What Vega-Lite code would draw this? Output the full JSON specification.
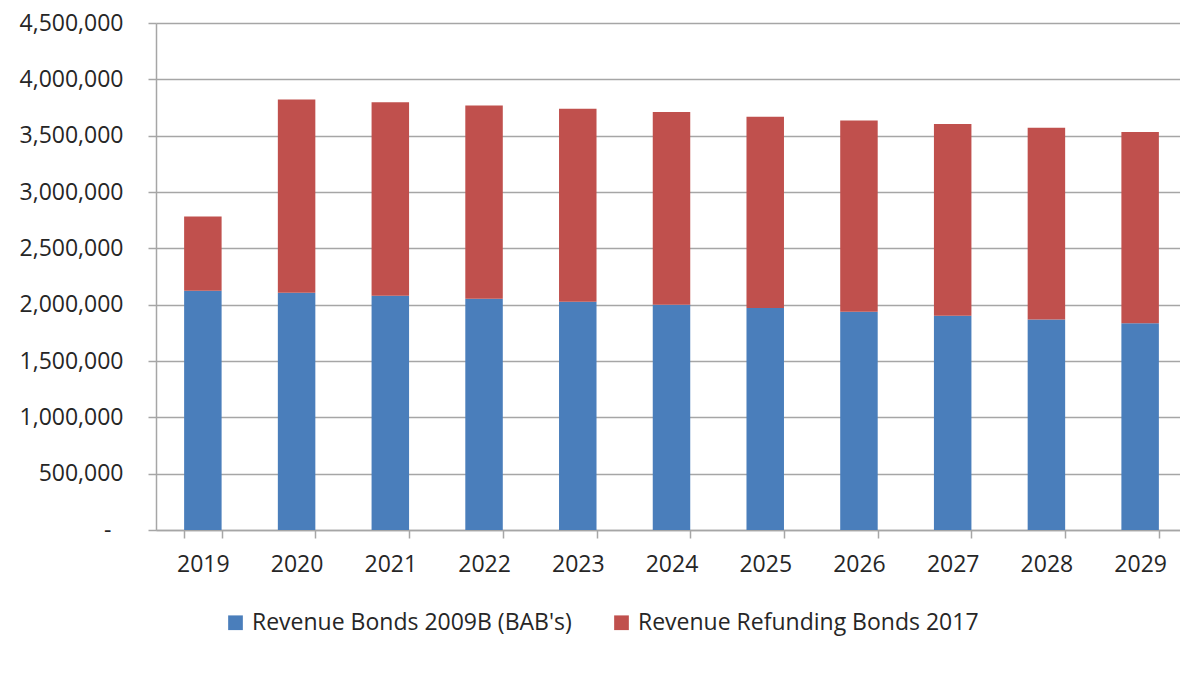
{
  "$schema": "https://vega.github.io/schema/vega-lite/v6.json",
  "autosize": {"type": "none"},
  "width": 1031,
  "height": 507,
  "padding": {"left": 156, "top": 23, "right": 0, "bottom": 143},
  "background": "white",
  "data": {
    "values": [
      {"year": "2019", "series": "Revenue Bonds 2009B (BAB's)", "amount": 2124000},
      {"year": "2019", "series": "Revenue Refunding Bonds 2017", "amount": 659500},
      {"year": "2020", "series": "Revenue Bonds 2009B (BAB's)", "amount": 2106000},
      {"year": "2020", "series": "Revenue Refunding Bonds 2017", "amount": 1716000},
      {"year": "2021", "series": "Revenue Bonds 2009B (BAB's)", "amount": 2080000},
      {"year": "2021", "series": "Revenue Refunding Bonds 2017", "amount": 1715500},
      {"year": "2022", "series": "Revenue Bonds 2009B (BAB's)", "amount": 2053000},
      {"year": "2022", "series": "Revenue Refunding Bonds 2017", "amount": 1715500},
      {"year": "2023", "series": "Revenue Bonds 2009B (BAB's)", "amount": 2026500},
      {"year": "2023", "series": "Revenue Refunding Bonds 2017", "amount": 1713000},
      {"year": "2024", "series": "Revenue Bonds 2009B (BAB's)", "amount": 2000000},
      {"year": "2024", "series": "Revenue Refunding Bonds 2017", "amount": 1709500},
      {"year": "2025", "series": "Revenue Bonds 2009B (BAB's)", "amount": 1969500},
      {"year": "2025", "series": "Revenue Refunding Bonds 2017", "amount": 1699000},
      {"year": "2026", "series": "Revenue Bonds 2009B (BAB's)", "amount": 1937500},
      {"year": "2026", "series": "Revenue Refunding Bonds 2017", "amount": 1698000},
      {"year": "2027", "series": "Revenue Bonds 2009B (BAB's)", "amount": 1902000},
      {"year": "2027", "series": "Revenue Refunding Bonds 2017", "amount": 1701000},
      {"year": "2028", "series": "Revenue Bonds 2009B (BAB's)", "amount": 1869000},
      {"year": "2028", "series": "Revenue Refunding Bonds 2017", "amount": 1701500},
      {"year": "2029", "series": "Revenue Bonds 2009B (BAB's)", "amount": 1834000},
      {"year": "2029", "series": "Revenue Refunding Bonds 2017", "amount": 1698000}
    ]
  },
  "mark": {"type": "bar"},
  "encoding": {
    "x": {
      "field": "year",
      "type": "ordinal",
      "scale": {"paddingInner": 0.6, "paddingOuter": 0.3},
      "axis": {
        "title": null,
        "labelAngle": 0,
        "labelFontSize": 23,
        "labelPadding": 15,
        "tickBand": "extent",
        "tickSize": 8,
        "tickWidth": 1.5,
        "tickColor": "#a6a6a6",
        "domainColor": "#a6a6a6",
        "domainWidth": 1.5,
        "grid": false
      }
    },
    "y": {
      "field": "amount",
      "type": "quantitative",
      "stack": "zero",
      "scale": {"domain": [0, 4500000], "nice": false},
      "axis": {
        "title": null,
        "values": [0, 500000, 1000000, 1500000, 2000000, 2500000, 3000000, 3500000, 4000000, 4500000],
        "labelExpr": "datum.value == 0 ? '-' : format(datum.value, ',')",
        "labelFontSize": 23,
        "labelPadding": {"condition": {"test": "datum.value == 0", "value": 37}, "value": 25},
        "tickSize": 8,
        "tickWidth": 1.5,
        "tickColor": "#a6a6a6",
        "domainColor": "#a6a6a6",
        "domainWidth": 1.5,
        "grid": true,
        "gridColor": "#a6a6a6",
        "gridWidth": 1.5
      }
    },
    "order": {"field": "series", "sort": "ascending"},
    "color": {
      "field": "series",
      "type": "nominal",
      "scale": {
        "domain": ["Revenue Bonds 2009B (BAB's)", "Revenue Refunding Bonds 2017"],
        "range": ["#4A7EBB", "#C0504D"]
      },
      "legend": {
        "title": null,
        "orient": "none",
        "legendX": 68,
        "legendY": 588,
        "direction": "horizontal",
        "symbolType": "square",
        "symbolSize": 216,
        "symbolStrokeWidth": 0,
        "labelFontSize": 23,
        "labelLimit": 0,
        "labelOffset": 5,
        "columnPadding": 38
      }
    }
  },
  "config": {
    "font": "Open Sans",
    "view": {"stroke": null},
    "axis": {"labelColor": "#262626", "labelFont": "Open Sans"},
    "legend": {"labelColor": "#262626", "labelFont": "Open Sans"}
  }
}
